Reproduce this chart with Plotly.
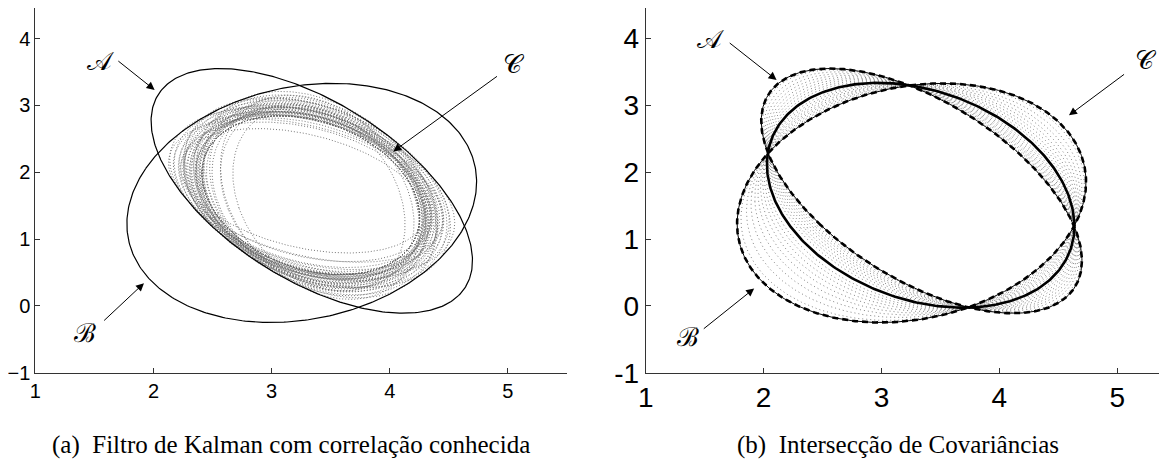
import numpy as np
import plotly.graph_objects as go

# ---- data ----
mean_A = [3.34, 1.72]
cov_A = [[1.85, -1.42], [-1.42, 3.35]]
mean_B = [3.255, 1.54]
cov_B = [[2.19, 0.465], [0.465, 3.20]]

# covariance-intersection weight of the bold ellipse (right panel)
ci_weight = 0.5
# CI family weights (dotted ellipses, right panel)
ci_family = [0.03, 0.08, 0.13, 0.18, 0.23, 0.28, 0.33, 0.38, 0.43, 0.57, 0.62, 0.67, 0.72, 0.77, 0.82, 0.87, 0.92, 0.97]
# Kalman fusion with known correlation: correlation magnitudes and orientations (left panel)
kf_rho = [0.0, 0.12, 0.24, 0.36, 0.48, 0.6, 0.72]
kf_phi = [-0.9, -0.6, -0.3, 0.0, 0.3, 0.6, 0.9]

x_ticks = [1, 2, 3, 4, 5]
y_ticks = [-1, 0, 1, 2, 3, 4]
y_ticktext_left = ["\u22121", "0", "1", "2", "3", "4"]
y_ticktext_right = ["-1", "0", "1", "2", "3", "4"]

caption_a = "(a)  Filtro de Kalman com correlação conhecida"
caption_b = "(b)  Intersecção de Covariâncias"

# labels and arrows: (text, label x, label y, tail x, tail y, head x, head y)
arrows_left = [
    ("\U0001D49C", 1.55, 3.67, 1.69, 3.68, 2.01, 3.23),
    ("\U0001D49E", 5.05, 3.62, 4.92, 3.45, 4.03, 2.31),
    ("\u212C", 1.42, -0.40, 1.57, -0.24, 1.92, 0.34),
]
arrows_right = [
    ("\U0001D49C", 1.55, 4.0, 1.70, 3.95, 2.11, 3.38),
    ("\U0001D49E", 5.24, 3.68, 5.07, 3.48, 4.59, 2.85),
    ("\u212C", 1.36, -0.46, 1.48, -0.36, 1.92, 0.26),
]

# ---- helpers ----
t = np.linspace(0, 2 * np.pi, 361)


def ellipse(mean, cov):
    w, v = np.linalg.eigh(np.asarray(cov, float))
    L = v @ np.diag(np.sqrt(np.maximum(w, 0)))
    pts = L @ np.vstack([np.cos(t), np.sin(t)])
    return pts[0] + mean[0], pts[1] + mean[1]


def sqrtm(M):
    w, v = np.linalg.eigh(np.asarray(M, float))
    return v @ np.diag(np.sqrt(w)) @ v.T


A = np.array(cov_A)
B = np.array(cov_B)
a = np.array(mean_A)
b = np.array(mean_B)
Ai = np.linalg.inv(A)
Bi = np.linalg.inv(B)
sA, sB = sqrtm(A), sqrtm(B)

fig = go.Figure()

# ---- left panel: KF with known correlation ----
for rho in kf_rho:
    for phi in kf_phi:
        K = rho * np.array([[np.cos(phi), -np.sin(phi)], [np.sin(phi), np.cos(phi)]])
        Pab = sA @ K @ sB
        S = A + B - Pab - Pab.T
        G = (A - Pab) @ np.linalg.inv(S)
        P = A - G @ (A - Pab).T
        P = (P + P.T) / 2
        m = a + G @ (b - a)
        ex, ey = ellipse(m, P)
        fig.add_trace(go.Scatter(x=ex, y=ey, mode="lines", xaxis="x", yaxis="y",
                                 line=dict(color="#666666", width=0.9, dash="1px,2px"),
                                 hoverinfo="skip", showlegend=False))

for mn, cv in ((mean_A, cov_A), (mean_B, cov_B)):
    ex, ey = ellipse(mn, cv)
    fig.add_trace(go.Scatter(x=ex, y=ey, mode="lines", xaxis="x", yaxis="y",
                             line=dict(color="black", width=1.2),
                             hoverinfo="skip", showlegend=False))

# ---- right panel: covariance intersection ----
def ci(w):
    Ci = w * Ai + (1 - w) * Bi
    C = np.linalg.inv(Ci)
    c = C @ (w * Ai @ a + (1 - w) * Bi @ b)
    return c, C

for w in ci_family:
    c, C = ci(w)
    ex, ey = ellipse(c, C)
    fig.add_trace(go.Scatter(x=ex, y=ey, mode="lines", xaxis="x2", yaxis="y2",
                             line=dict(color="#777777", width=0.9, dash="1px,3px"),
                             hoverinfo="skip", showlegend=False))

for mn, cv in ((mean_A, cov_A), (mean_B, cov_B)):
    ex, ey = ellipse(mn, cv)
    fig.add_trace(go.Scatter(x=ex, y=ey, mode="lines", xaxis="x2", yaxis="y2",
                             line=dict(color="black", width=1),
                             hoverinfo="skip", showlegend=False))
    fig.add_trace(go.Scatter(x=ex, y=ey, mode="lines", xaxis="x2", yaxis="y2",
                             line=dict(color="black", width=2.6, dash="6px,4px"),
                             hoverinfo="skip", showlegend=False))

c, C = ci(ci_weight)
ex, ey = ellipse(c, C)
fig.add_trace(go.Scatter(x=ex, y=ey, mode="lines", xaxis="x2", yaxis="y2",
                         line=dict(color="black", width=2.6),
                         hoverinfo="skip", showlegend=False))

# ---- layout geometry (page has an 8px body margin) ----
OFF = 8
W, H = 1167 - 2 * OFF, 470 - 2 * OFF
xpx_per_unit = 117.9
ypx_per_unit = 66.84
y_bottom_page = 372.7
y_top_page = OFF  # top of visible figure
ydom = [1 - (y_bottom_page - OFF) / H, 1.0]
y_top_val = -1 + (y_bottom_page - y_top_page) / ypx_per_unit

left_x0, left_x1 = 35.3, 567.0
right_x0 = 645.7
right_x1 = OFF + W
right_xmax = 1 + (right_x1 - right_x0) / xpx_per_unit

# ---- annotations ----
ann = []
for xr, yr, items, fs in (("x", "y", arrows_left, 26), ("x2", "y2", arrows_right, 26)):
    for txt, lx, ly, tx, ty, hx, hy in items:
        ann.append(dict(x=hx, y=hy, ax=tx, ay=ty, xref=xr, yref=yr, axref=xr, ayref=yr,
                        showarrow=True, arrowhead=2, arrowsize=1.6, arrowwidth=1,
                        arrowcolor="black", text=""))
        ann.append(dict(x=lx, y=ly, xref=xr, yref=yr, showarrow=False, text=txt,
                        font=dict(family="DejaVu Serif", size=fs, color="black")))

cap_y = 1 - (445 - OFF) / H
ann.append(dict(x=(291 - OFF) / W, y=cap_y, xref="paper", yref="paper", showarrow=False,
                xanchor="center", yanchor="middle", borderpad=0,
                text=caption_a, font=dict(family="Liberation Serif", size=25, color="black")))
ann.append(dict(x=(898 - OFF) / W, y=cap_y, xref="paper", yref="paper", showarrow=False,
                xanchor="center", yanchor="middle", borderpad=0,
                text=caption_b, font=dict(family="Liberation Serif", size=25, color="black")))

axis_common = dict(showline=True, linecolor="#333333", linewidth=1, ticks="inside", ticklen=5,
                   tickcolor="#333333", showgrid=False, zeroline=False, mirror=False,
                   automargin=False)

fig.update_layout(
    width=W, height=H, autosize=False,
    margin=dict(l=0, r=0, t=0, b=0),
    paper_bgcolor="white", plot_bgcolor="white",
    annotations=ann,
    xaxis=dict(domain=[(left_x0 - OFF) / W, (left_x1 - OFF) / W], range=[1, 5.5], tickvals=x_ticks,
               tickfont=dict(family="Liberation Sans", size=20, color="black"), anchor="y", **axis_common),
    yaxis=dict(domain=ydom, range=[-1, y_top_val], tickvals=y_ticks, ticktext=y_ticktext_left,
               tickfont=dict(family="Liberation Sans", size=20, color="black"), anchor="x", **axis_common),
    xaxis2=dict(domain=[(right_x0 - OFF) / W, 1.0], range=[1, right_xmax], tickvals=x_ticks,
                tickfont=dict(family="Liberation Sans", size=28, color="black"), anchor="y2", **axis_common),
    yaxis2=dict(domain=ydom, range=[-1, y_top_val], tickvals=y_ticks, ticktext=y_ticktext_right,
                tickfont=dict(family="Liberation Sans", size=28, color="black"), anchor="x2", **axis_common),
)

fig.write_html("out.html")
